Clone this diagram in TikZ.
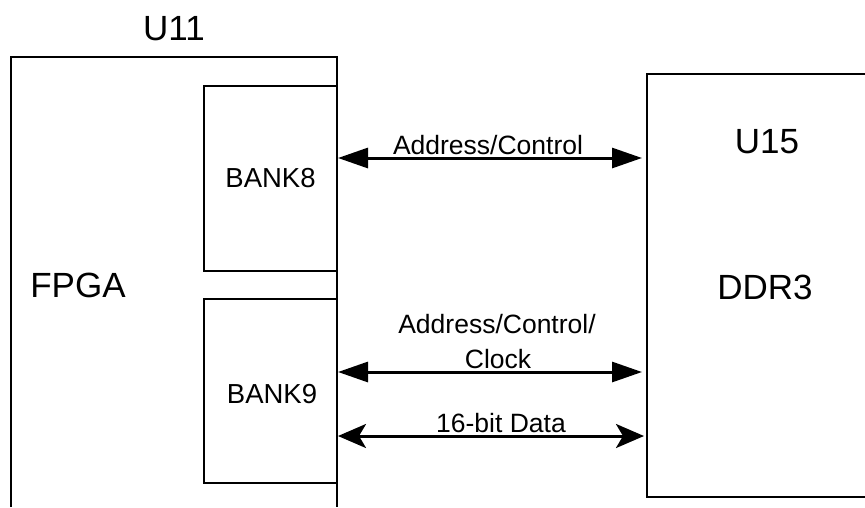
\documentclass[tikz,border=0pt]{standalone}
\usepackage{fontspec}
\setmainfont{Liberation Sans}
\usetikzlibrary{arrows.meta}
\begin{document}
\begin{tikzpicture}[x=1pt,y=-1pt,
  boxline/.style={line width=2.5pt},
  bankbox/.style={draw,line width=2.5pt,minimum width=133pt,inner sep=0pt,font=\fontsize{27.5}{33}\selectfont},
  bigtext/.style={anchor=base,inner sep=0pt,font=\fontsize{35}{42}\selectfont},
  lbltext/.style={anchor=base,inner sep=0pt,font=\fontsize{26.5}{32}\selectfont},
  bus/.style={line width=3pt,{Triangle[length=30pt,width=20pt]}-{Triangle[length=30pt,width=20pt]}},
  databus/.style={line width=3pt,{Stealth[length=28pt,width=24pt,inset=7pt]}-{Stealth[length=28pt,width=24pt,inset=7pt]}}]
\useasboundingbox (0,0) rectangle (865,507);
% FPGA outline (open at the bottom)
\coordinate (fbl) at (11,507);
\coordinate (ftl) at (11,57);
\coordinate (ftr) at (337,57);
\coordinate (fbr) at (337,507);
\draw[boxline] (fbl) -- (ftl) -- (ftr) -- (fbr);
% DDR3 outline (open at the right)
\coordinate (dtr) at (865,74);
\coordinate (dtl) at (647,74);
\coordinate (dbl) at (647,497);
\coordinate (dbr) at (865,497);
\draw[boxline] (dtr) -- (dtl) -- (dbl) -- (dbr);
% banks
\node[bankbox,minimum height=185pt] (bank8) at (270.5,178.5) {BANK8};
\node[bankbox,minimum height=184pt] (bank9) at (270.5,391) {};
\node[anchor=base,inner sep=0pt,font=\fontsize{27.5}{33}\selectfont] (bank9t) at (272,403) {BANK9};
% titles
\node[bigtext] (u11) at (174,40) {U11};
\node[bigtext] (fpga) at (78,297) {FPGA};
\node[bigtext] (u15) at (767,153) {U15};
\node[bigtext] (ddr3) at (765,299) {DDR3};
% bus end points
\coordinate (a1l) at (338,158);
\coordinate (a1r) at (642,158);
\coordinate (a2l) at (338,372);
\coordinate (a2r) at (642,372);
\coordinate (a3l) at (338,436);
\coordinate (a3r) at (644,436);
\draw[bus] (a1l) -- (a1r);
\draw[bus] (a2l) -- (a2r);
\draw[databus] (a3l) -- (a3r);
% labels
\node[lbltext] (l1) at (488,154) {Address/Control};
\node[lbltext] (l2a) at (497,333) {Address/Control/};
\node[lbltext] (l2b) at (498,368) {Clock};
\node[lbltext] (l3) at (501,432) {16-bit Data};
\end{tikzpicture}
\end{document}
